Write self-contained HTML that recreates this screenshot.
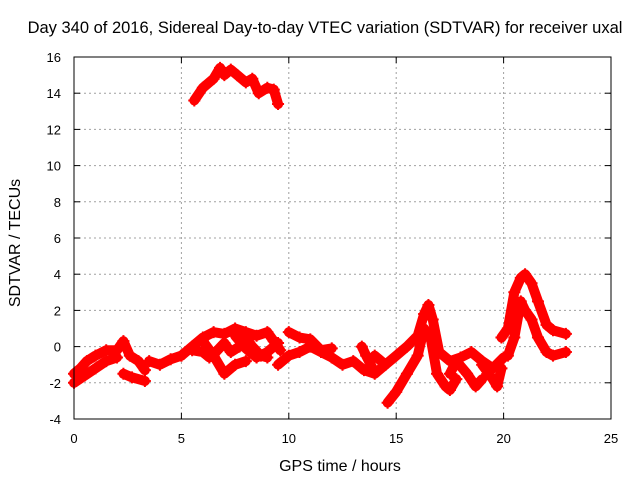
<!DOCTYPE html>
<html><head><meta charset="utf-8"><style>
body{margin:0;background:#fff;}
svg{display:block;font-family:"Liberation Sans",sans-serif;}
</style></head><body>
<svg id="c" width="640" height="480"></svg>
<script>
const xTicks=[0,5,10,15,20,25];
const yTicks=[-4,-2,0,2,4,6,8,10,12,14,16];
const trackNames=["a1","a2","a3","b","c1","c2","c3","c4","d1","d2","d3","e1","e2","e3","e4","f1","f2","g"];
const trackHours=[
[0,0.3,0.6,1,1.5,2,2.3,2.6,3,3.3],
[0,0.5,1,1.5,2],
[2.3,2.7,3.3],
[3.5,4,4.5,5],
[5,5.5,6,6.5,7,7.5,8,8.5,9,9.3,9.6],
[5.5,6,6.3,6.6,7,7.3,7.7,8,8.3,8.7,9],
[6,6.5,7,7.5,8],
[7.5,8,8.5,9,9.5],
[9.5,10,10.5,11,11.5,12,12.5,13,13.5,14,14.5],
[10,10.5,11,11.5,12],
[13.4,13.6,13.9],
[14,14.5,15,15.5,16,16.3,16.5,16.7,17,17.5,18,18.5,19,19.5,20],
[14.6,15,15.5,16,16.3,16.6,16.9,17.3,17.5,17.8],
[17.5,17.8,18.3,18.7,19],
[19,19.5,19.7,19.9],
[19.9,20.2,20.5,20.8,21,21.3,21.6,22,22.3,22.9],
[20.2,20.5,20.8,21,21.3,21.6,22,22.3,22.9],
[5.6,6,6.5,6.8,7,7.3,7.6,8,8.3,8.6,9,9.3,9.5]];
const trackValues=[
[-1.5,-1.2,-0.8,-0.5,-0.2,-0.2,0.3,-0.5,-0.8,-1.3],
[-2,-1.6,-1.2,-0.8,-0.6],
[-1.5,-1.7,-1.9],
[-0.8,-1,-0.7,-0.5],
[-0.5,0,0.5,0.8,0.7,1,0.8,0.6,0.8,0.3,-0.2],
[-0.2,-0.3,-0.6,-0.3,0.2,-0.3,0,0.5,0,-0.5,-0.6],
[0.3,-0.5,-1.5,-1,-0.8],
[0.6,-0.1,-0.6,-0.3,0.2],
[-1,-0.5,-0.3,0,-0.3,-0.6,-1,-0.8,-1.3,-1.5,-1.0],
[0.8,0.5,0.4,-0.2,-0.1],
[0,-0.5,-1.2],
[-0.5,-1,-0.5,0,0.6,1.8,2.3,1.5,-0.3,-0.8,-0.6,-0.3,-0.8,-1.2,-0.6],
[-3.1,-2.5,-1.5,-0.5,1,0.5,-1.5,-2.2,-2.4,-1.8],
[-1.5,-0.8,-1.5,-2.2,-1.8],
[-1,-1.8,-2.2,-1.2],
[0.5,1,3,3.8,4,3.5,2.5,1.2,0.9,0.7],
[-0.5,0.5,2.5,2,1.5,0.5,-0.3,-0.5,-0.3],
[13.6,14.3,14.8,15.4,15,15.3,15,14.6,14.8,14,14.3,14.2,13.4]];
const L=74,R=611,T=57,B=419;
const X=v=>L+(v-0)/(25-0)*(R-L);
const Y=v=>B-(v+4)/(20)*(B-T);
const svg=document.getElementById('c');
const NS="http://www.w3.org/2000/svg";
function mk(t,a,p){const e=document.createElementNS(NS,t);for(const k in a)e.setAttribute(k,a[k]);(p||svg).appendChild(e);return e;}
xTicks.forEach(v=>{
 if(v>0&&v<25){const g=mk('line',{x1:X(v),x2:X(v),y1:T,y2:B,stroke:'#a0a0a0','stroke-dasharray':'2,3'});
 
 }
 const t=mk('text',{x:X(v),y:443,'text-anchor':'middle','font-size':13});t.textContent=v;
 
 
 mk('line',{x1:X(v),x2:X(v),y1:B,y2:B-6,stroke:'#000'});mk('line',{x1:X(v),x2:X(v),y1:T,y2:T+6,stroke:'#000'});
});
yTicks.forEach(v=>{
 if(v>-4&&v<16){const g=mk('line',{x1:L,x2:R,y1:Y(v),y2:Y(v),stroke:'#a0a0a0','stroke-dasharray':'2,3'});
 
 }
 const t=mk('text',{x:61,y:Y(v)+5,'text-anchor':'end','font-size':13});t.textContent=v;
 
 
 mk('line',{x1:L,x2:L+6,y1:Y(v),y2:Y(v),stroke:'#000'});mk('line',{x1:R,x2:R-6,y1:Y(v),y2:Y(v),stroke:'#000'});
});
trackNames.forEach((n,i)=>{
 const g=mk('g',{});
 
 
 const pts=trackHours[i].map((h,j)=>X(h)+','+Y(trackValues[i][j])).join(' ');
 mk('polyline',{points:pts,fill:'none',stroke:'#f00','stroke-width':10,'stroke-linejoin':'round','stroke-linecap':'round'},g);
 trackHours[i].forEach((h,j)=>{const x=X(h),y=Y(trackValues[i][j]);
  mk('path',{d:`M${x-6},${y}H${x+6}M${x},${y-6}V${y+6}`,stroke:'#f00','stroke-width':2},g);});
});
const fr=mk('rect',{x:L,y:T,width:R-L,height:B-T,fill:'none',stroke:'#000'});


const ti=mk('text',{x:325,y:33,'text-anchor':'middle','font-size':16.5});ti.textContent='Day 340 of 2016, Sidereal Day-to-day VTEC variation (SDTVAR) for receiver uxal';


const xt=mk('text',{x:340,y:471,'text-anchor':'middle','font-size':16});xt.textContent='GPS time / hours';


const yt=mk('text',{x:0,y:0,'text-anchor':'middle','font-size':16,transform:'translate(20,243) rotate(-90)'});yt.textContent='SDTVAR / TECUs';


</script>
</body></html>
